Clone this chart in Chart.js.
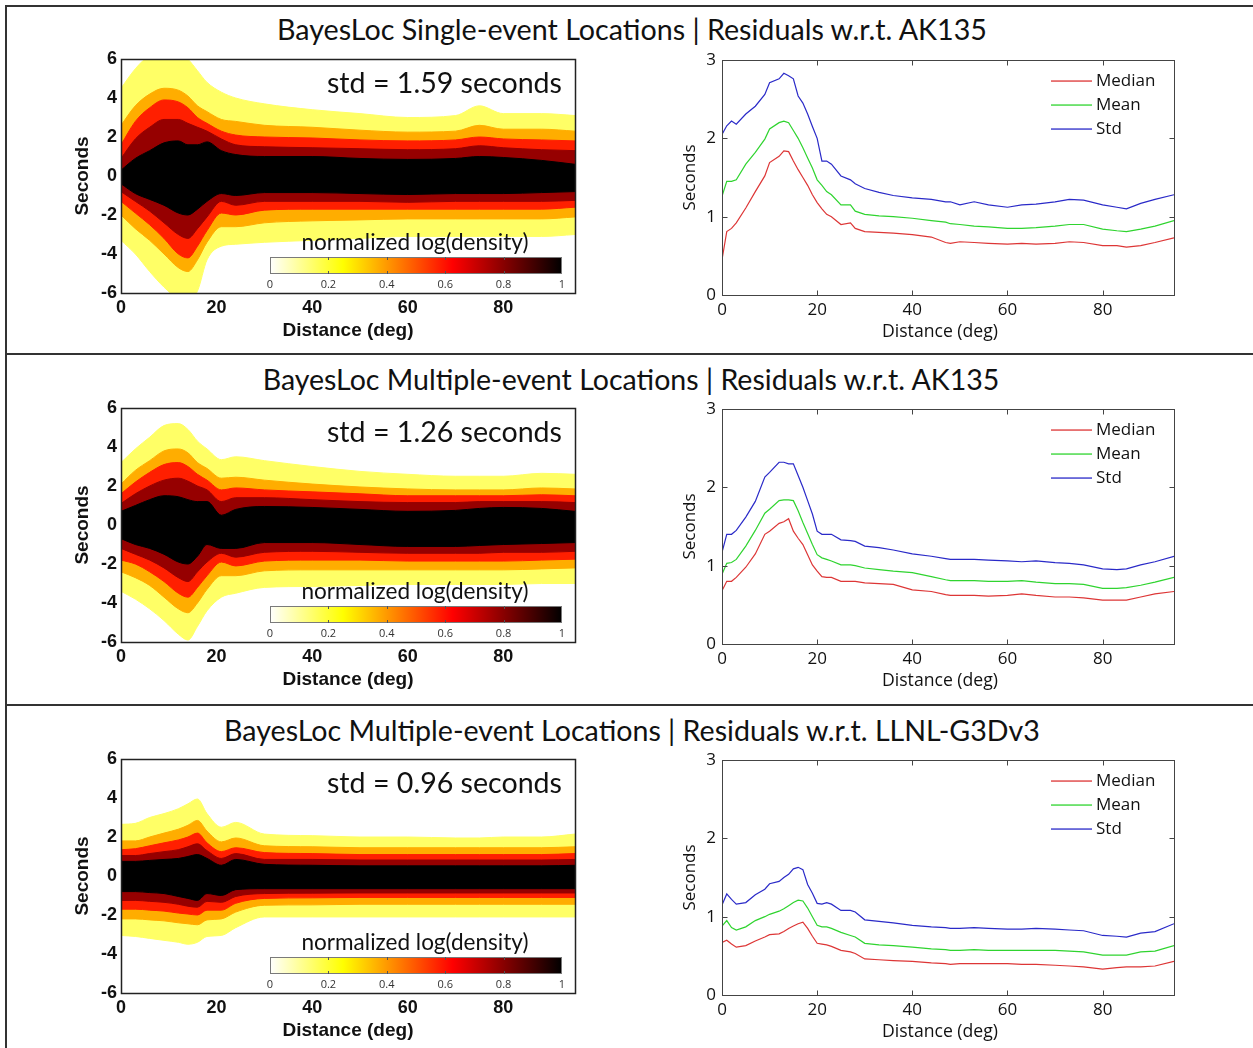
<!DOCTYPE html>
<html>
<head>
<meta charset="utf-8">
<title>BayesLoc residuals</title>
<script src="https://cdn.jsdelivr.net/npm/chart.js@4.4.1/dist/chart.umd.min.js"></script>
<style>
  html, body { margin: 0; padding: 0; background: #fff; }
  #figure { position: relative; width: 1253px; height: 1048px; overflow: hidden; background: #fff; }
  .rule { position: absolute; background: #333; }
  .label { position: absolute; white-space: nowrap; color: #111; line-height: 1; }
  canvas { position: absolute; }
</style>
</head>
<body>
<div id="figure"></div>
<script>
// ---- axes / labels ---------------------------------------------------------
const distanceTicks = [0, 20, 40, 60, 80];
const residualTicks = [-6, -4, -2, 0, 2, 4, 6];
const statTicks = [0, 1, 2, 3];
const colorbarTicks = [0, 0.2, 0.4, 0.6, 0.8, 1];

const rowTitles = [
  'BayesLoc Single-event Locations | Residuals w.r.t. AK135',
  'BayesLoc Multiple-event Locations | Residuals w.r.t. AK135',
  'BayesLoc Multiple-event Locations | Residuals w.r.t. LLNL-G3Dv3'
];
const stdLabels = ['std = 1.59 seconds', 'std = 1.26 seconds', 'std = 0.96 seconds'];
const statNames = ['Median', 'Mean', 'Std'];

// ---- density contours: distance samples and traced level boundaries (s) ----
const densityX = [0, 3, 6, 9, 12, 14, 16, 18, 21, 24, 30, 40, 50, 60, 70, 75, 80, 88, 95];
const contourLevels = [0.1, 0.3, 0.5, 0.7, 0.9];

const singleAkUpper = [
  [4.5, 5.5, 6.2, 6.5, 6.4, 6.0, 5.4, 4.8, 4.3, 4.0, 3.7, 3.4, 3.2, 3.0, 3.1, 3.6, 3.2, 3.2, 3.1],
  [2.6, 3.6, 4.2, 4.5, 4.4, 4.1, 3.6, 3.3, 2.9, 2.8, 2.6, 2.5, 2.35, 2.25, 2.3, 2.6, 2.4, 2.4, 2.3],
  [1.6, 2.8, 3.5, 3.9, 3.8, 3.5, 3.0, 2.7, 2.3, 2.1, 2.0, 1.95, 1.85, 1.8, 1.85, 2.0, 1.9, 1.85, 1.8],
  [0.9, 1.9, 2.5, 2.9, 2.9, 2.7, 2.5, 2.3, 1.9, 1.6, 1.5, 1.45, 1.4, 1.35, 1.4, 1.55, 1.45, 1.35, 1.3],
  [0.3, 0.9, 1.3, 1.7, 1.8, 1.6, 1.6, 1.75, 1.3, 1.1, 1.0, 1.0, 0.9, 0.85, 0.9, 1.0, 0.95, 0.8, 0.6]
];
const singleAkLower = [
  [-3.3, -4.0, -4.9, -5.7, -6.3, -6.4, -5.9, -4.3, -3.6, -3.5, -3.4, -3.3, -3.2, -3.1, -3.1, -3.1, -3.1, -3.1, -3.0],
  [-2.0, -2.7, -3.3, -4.0, -4.7, -4.9, -4.3, -3.4, -2.6, -2.6, -2.4, -2.3, -2.25, -2.2, -2.2, -2.2, -2.2, -2.2, -2.1],
  [-1.3, -1.9, -2.5, -3.2, -4.0, -4.2, -3.6, -2.8, -1.9, -2.0, -1.75, -1.7, -1.7, -1.7, -1.7, -1.7, -1.7, -1.7, -1.6],
  [-0.8, -1.3, -1.8, -2.4, -3.0, -3.2, -2.7, -2.1, -1.3, -1.5, -1.3, -1.3, -1.3, -1.35, -1.3, -1.3, -1.3, -1.3, -1.25],
  [-0.4, -0.9, -1.2, -1.5, -1.9, -2.0, -1.7, -1.3, -0.9, -1.0, -0.85, -0.85, -0.9, -0.95, -0.9, -0.9, -0.9, -0.85, -0.8]
];

const multiAkUpper = [
  [3.2, 3.9, 4.5, 5.1, 5.2, 4.9, 4.3, 3.9, 3.35, 3.5, 3.3, 3.0, 2.75, 2.6, 2.5, 2.5, 2.5, 2.65, 2.6],
  [2.1, 2.8, 3.3, 3.8, 3.9, 3.7, 3.2, 2.9, 2.4, 2.45, 2.3, 2.1, 1.95, 1.85, 1.8, 1.8, 1.8, 1.9, 1.85],
  [1.6, 2.2, 2.7, 3.1, 3.2, 3.0, 2.6, 2.3, 1.8, 1.9, 1.8, 1.7, 1.6, 1.5, 1.5, 1.5, 1.5, 1.55, 1.5],
  [1.1, 1.6, 2.0, 2.3, 2.4, 2.25, 2.0, 1.8, 1.2, 1.4, 1.4, 1.3, 1.2, 1.15, 1.15, 1.2, 1.2, 1.2, 1.15],
  [0.7, 1.0, 1.3, 1.5, 1.45, 1.3, 1.2, 1.2, 0.5, 0.8, 0.95, 0.9, 0.8, 0.7, 0.75, 0.85, 0.9, 0.85, 0.7]
];
const multiAkLower = [
  [-3.4, -3.8, -4.3, -4.9, -5.6, -5.9, -5.2, -4.4, -3.7, -3.5, -3.2, -3.15, -3.1, -3.05, -3.05, -3.05, -3.05, -3.0, -3.0],
  [-2.4, -2.7, -3.1, -3.7, -4.3, -4.5, -4.0, -3.3, -2.6, -2.6, -2.35, -2.3, -2.3, -2.3, -2.3, -2.3, -2.3, -2.25, -2.2],
  [-1.8, -2.0, -2.4, -2.9, -3.5, -3.7, -3.2, -2.6, -1.9, -2.1, -1.85, -1.8, -1.8, -1.85, -1.85, -1.85, -1.85, -1.8, -1.75],
  [-1.2, -1.5, -1.8, -2.2, -2.7, -2.9, -2.4, -1.9, -1.45, -1.65, -1.4, -1.35, -1.4, -1.45, -1.45, -1.45, -1.4, -1.4, -1.35],
  [-0.7, -1.0, -1.2, -1.5, -1.9, -2.0, -1.6, -1.0, -1.2, -1.2, -0.9, -0.9, -1.0, -1.1, -1.1, -1.05, -1.0, -0.95, -0.9]
];

const multiLlnlUpper = [
  [2.65, 2.7, 3.0, 3.2, 3.45, 3.7, 3.95, 3.2, 2.5, 2.75, 2.15, 2.07, 2.0, 2.0, 1.95, 1.95, 2.0, 2.0, 2.15],
  [1.8, 1.8, 2.0, 2.2, 2.4, 2.6, 2.85, 2.3, 1.75, 1.95, 1.55, 1.5, 1.45, 1.45, 1.45, 1.45, 1.45, 1.45, 1.5],
  [1.35, 1.4, 1.55, 1.7, 1.85, 2.0, 2.2, 1.7, 1.25, 1.45, 1.2, 1.15, 1.1, 1.1, 1.1, 1.1, 1.1, 1.1, 1.15],
  [1.05, 1.05, 1.15, 1.25, 1.35, 1.5, 1.65, 1.3, 0.9, 1.15, 0.85, 0.85, 0.82, 0.82, 0.82, 0.82, 0.82, 0.82, 0.85],
  [0.75, 0.75, 0.8, 0.85, 0.9, 1.0, 1.1, 0.9, 0.55, 0.85, 0.6, 0.55, 0.52, 0.52, 0.52, 0.52, 0.52, 0.52, 0.55]
];
const multiLlnlLower = [
  [-3.05, -3.1, -3.2, -3.3, -3.4, -3.5, -3.4, -3.1, -3.05, -2.65, -2.1, -2.1, -2.1, -2.1, -2.1, -2.1, -2.1, -2.1, -2.1],
  [-2.2, -2.2, -2.25, -2.3, -2.4, -2.45, -2.5, -2.25, -2.2, -1.85, -1.5, -1.48, -1.45, -1.45, -1.45, -1.45, -1.45, -1.45, -1.45],
  [-1.7, -1.7, -1.75, -1.8, -1.9, -1.95, -2.0, -1.75, -1.75, -1.4, -1.15, -1.12, -1.1, -1.1, -1.1, -1.1, -1.1, -1.1, -1.1],
  [-1.25, -1.25, -1.3, -1.35, -1.45, -1.55, -1.6, -1.3, -1.35, -1.05, -0.9, -0.88, -0.87, -0.87, -0.87, -0.87, -0.87, -0.87, -0.87],
  [-0.8, -0.8, -0.85, -0.9, -1.05, -1.15, -1.25, -0.9, -1.0, -0.7, -0.65, -0.65, -0.65, -0.65, -0.65, -0.65, -0.65, -0.65, -0.65]
];

// ---- residual statistics vs distance (s) -----------------------------------
const statX = [0, 1, 2, 3, 5, 7, 9, 10, 12, 13, 14, 15, 16, 17, 18, 19, 20, 21, 22, 23, 25, 27, 28, 30,
  33, 36, 40, 44, 47, 48, 50, 53, 56, 60, 63, 66, 70, 73, 76, 80, 83, 85, 88, 91, 95];

const singleAkMedian = [0.45, 0.81, 0.85, 0.92, 1.11, 1.32, 1.52, 1.69, 1.77, 1.84, 1.83, 1.71, 1.6, 1.5, 1.4, 1.28,
  1.18, 1.1, 1.03, 1.0, 0.9, 0.92, 0.85, 0.81, 0.8, 0.79, 0.77, 0.74, 0.67, 0.66, 0.68, 0.67, 0.66, 0.65,
  0.66, 0.65, 0.66, 0.68, 0.67, 0.63, 0.63, 0.61, 0.63, 0.67, 0.73];
const singleAkMean = [1.26, 1.45, 1.45, 1.47, 1.67, 1.82, 1.99, 2.12, 2.2, 2.22, 2.2, 2.1, 2.0, 1.88, 1.75, 1.62,
  1.47, 1.4, 1.32, 1.28, 1.15, 1.15, 1.07, 1.03, 1.01, 1.0, 0.98, 0.95, 0.93, 0.91, 0.9, 0.88, 0.87, 0.85,
  0.85, 0.86, 0.88, 0.9, 0.9, 0.84, 0.82, 0.81, 0.84, 0.88, 0.95];
const singleAkStd = [2.05, 2.16, 2.22, 2.18, 2.31, 2.41, 2.56, 2.71, 2.76, 2.83, 2.8, 2.76, 2.54, 2.45, 2.31, 2.15,
  2.0, 1.71, 1.71, 1.67, 1.52, 1.47, 1.42, 1.36, 1.31, 1.27, 1.24, 1.22, 1.19, 1.19, 1.15, 1.19, 1.15, 1.12,
  1.15, 1.16, 1.19, 1.22, 1.21, 1.15, 1.12, 1.1, 1.17, 1.22, 1.28];

const multiAkMedian = [0.68, 0.8, 0.8, 0.85, 0.98, 1.15, 1.4, 1.44, 1.54, 1.56, 1.6, 1.44, 1.35, 1.27, 1.14, 1.01,
  0.93, 0.86, 0.85, 0.85, 0.8, 0.8, 0.8, 0.78, 0.77, 0.76, 0.69, 0.67, 0.63, 0.62, 0.62, 0.62, 0.61, 0.62,
  0.64, 0.62, 0.6, 0.6, 0.59, 0.56, 0.56, 0.56, 0.6, 0.64, 0.67];
const multiAkMean = [0.89, 1.03, 1.04, 1.08, 1.25, 1.45, 1.67, 1.72, 1.83, 1.84, 1.84, 1.83, 1.7, 1.55, 1.41, 1.27,
  1.14, 1.1, 1.08, 1.06, 1.01, 1.01, 1.0, 0.97, 0.95, 0.93, 0.91, 0.86, 0.82, 0.81, 0.81, 0.81, 0.8, 0.8,
  0.81, 0.79, 0.77, 0.77, 0.76, 0.71, 0.71, 0.72, 0.75, 0.79, 0.85];
const multiAkStd = [1.17, 1.4, 1.4, 1.45, 1.62, 1.82, 2.13, 2.19, 2.32, 2.32, 2.3, 2.3, 2.15, 2.0, 1.83, 1.66,
  1.44, 1.4, 1.4, 1.4, 1.33, 1.32, 1.31, 1.25, 1.23, 1.2, 1.15, 1.12, 1.09, 1.08, 1.08, 1.08, 1.07, 1.06,
  1.05, 1.06, 1.04, 1.03, 1.01, 0.96, 0.95, 0.96, 1.01, 1.05, 1.12];

const multiLlnlMedian = [0.67, 0.7, 0.65, 0.61, 0.63, 0.69, 0.74, 0.77, 0.78, 0.81, 0.85, 0.88, 0.91, 0.93, 0.85, 0.75,
  0.66, 0.65, 0.64, 0.62, 0.57, 0.55, 0.53, 0.46, 0.45, 0.44, 0.43, 0.41, 0.4, 0.39, 0.4, 0.4, 0.4, 0.4,
  0.39, 0.39, 0.38, 0.37, 0.36, 0.33, 0.35, 0.36, 0.36, 0.37, 0.43];
const multiLlnlMean = [0.88, 0.95, 0.86, 0.83, 0.87, 0.95, 1.0, 1.03, 1.07, 1.1, 1.14, 1.18, 1.21, 1.2, 1.11, 1.0,
  0.89, 0.87, 0.87, 0.85, 0.8, 0.76, 0.74, 0.66, 0.64, 0.63, 0.61, 0.59, 0.58, 0.57, 0.57, 0.58, 0.57, 0.57,
  0.57, 0.57, 0.57, 0.56, 0.55, 0.51, 0.51, 0.51, 0.55, 0.56, 0.63];
const multiLlnlStd = [1.15, 1.29, 1.22, 1.16, 1.18, 1.28, 1.35, 1.42, 1.45, 1.5, 1.54, 1.61, 1.63, 1.6, 1.41, 1.3,
  1.17, 1.16, 1.18, 1.16, 1.08, 1.08, 1.06, 0.96, 0.94, 0.92, 0.89, 0.87, 0.86, 0.85, 0.85, 0.86, 0.85, 0.84,
  0.84, 0.85, 0.84, 0.83, 0.82, 0.76, 0.75, 0.74, 0.79, 0.81, 0.91];

const rows = [
  { title: rowTitles[0], std: stdLabels[0], upper: singleAkUpper, lower: singleAkLower,
    stats: [singleAkMedian, singleAkMean, singleAkStd] },
  { title: rowTitles[1], std: stdLabels[1], upper: multiAkUpper, lower: multiAkLower,
    stats: [multiAkMedian, multiAkMean, multiAkStd] },
  { title: rowTitles[2], std: stdLabels[2], upper: multiLlnlUpper, lower: multiLlnlLower,
    stats: [multiLlnlMedian, multiLlnlMean, multiLlnlStd] }
];

// ---- styling -----------------------------------------------------------------
const ROW_SHIFT = [0, 349, 700];
const TITLE_POS = [{ x: 632, y: 29, w: 710 }, { x: 631, y: 379, w: 737 }, { x: 632, y: 730, w: 816 }];
const bandTone = [0.15, 0.37, 0.58, 0.78, 1.0];   // fill tone for area inside each level
const statColors = ['#dd3636', '#2fd42f', '#2a2ac8'];
const boldAxisFont = { family: '"Liberation Sans", Arial, sans-serif', size: 18, weight: 'bold' };
const boldTitleFont = { family: '"Liberation Sans", Arial, sans-serif', size: 19, weight: 'bold' };
const plainFont = { family: '"Open Sans", sans-serif', size: 17 };

// reversed MATLAB "hot" colormap: 0 -> white, 1 -> black
function hotR(t) {
  const v = 1 - t;
  const r = Math.min(1, v / 0.375);
  const g = Math.min(1, Math.max(0, (v - 0.375) / 0.375));
  const b = Math.min(1, Math.max(0, (v - 0.75) / 0.25));
  return `rgb(${Math.round(r * 255)},${Math.round(g * 255)},${Math.round(b * 255)})`;
}

const fig = document.getElementById('figure');

function addRule(left, top, width, height) {
  const d = document.createElement('div');
  d.className = 'rule';
  Object.assign(d.style, { left: left + 'px', top: top + 'px', width: width + 'px', height: height + 'px' });
  fig.appendChild(d);
}

// text sized so that it spans a given width, then placed by anchor
function addText(text, family, cx, cy, width, anchor) {
  const el = document.createElement('div');
  el.className = 'label';
  el.textContent = text;
  el.style.fontFamily = family;
  el.style.fontSize = '28px';
  fig.appendChild(el);
  const w0 = el.getBoundingClientRect().width;
  el.style.fontSize = (28 * width / w0).toFixed(2) + 'px';
  const r = el.getBoundingClientRect();
  const left = anchor === 'right' ? cx - r.width : cx - r.width / 2;
  el.style.left = left + 'px';
  el.style.top = (cy - r.height / 2) + 'px';
}

function addCanvas(left, top, w, h) {
  const c = document.createElement('canvas');
  c.width = w;
  c.height = h;
  Object.assign(c.style, { left: left + 'px', top: top + 'px', width: w + 'px', height: h + 'px' });
  fig.appendChild(c);
  return c;
}

// box around the plot area, with optional inward tick marks
function framePlugin(color, width, tickLen, xTicks, yTicks) {
  return {
    id: 'frame',
    afterDatasetsDraw(chart) {
      const { ctx, chartArea: a, scales } = chart;
      const l = Math.round(a.left) + 0.5, t = Math.round(a.top) + 0.5;
      const r = Math.round(a.right) + 0.5, b = Math.round(a.bottom) + 0.5;
      ctx.save();
      ctx.strokeStyle = color;
      ctx.lineWidth = width;
      ctx.strokeRect(l, t, r - l, b - t);
      if (tickLen) {
        ctx.lineWidth = 1;
        ctx.beginPath();
        xTicks.forEach(v => {
          const px = Math.round(scales.x.getPixelForValue(v)) + 0.5;
          ctx.moveTo(px, b); ctx.lineTo(px, b - tickLen);
          ctx.moveTo(px, t); ctx.lineTo(px, t + tickLen);
        });
        yTicks.forEach(v => {
          const py = Math.round(scales.y.getPixelForValue(v)) + 0.5;
          ctx.moveTo(l, py); ctx.lineTo(l + tickLen, py);
          ctx.moveTo(r, py); ctx.lineTo(r - tickLen, py);
        });
        ctx.stroke();
      }
      ctx.restore();
    }
  };
}

// horizontal colour bar for the density scale
const colorbarPlugin = {
  id: 'colorbar',
  afterDatasetsDraw(chart) {
    const { ctx, chartArea: a } = chart;
    const left = Math.round(a.left) + 149, top = Math.round(a.top) + 198, w = 292, h = 17;
    const grad = ctx.createLinearGradient(left, 0, left + w, 0);
    for (let i = 0; i <= 40; i++) grad.addColorStop(i / 40, hotR(i / 40));
    ctx.save();
    ctx.fillStyle = grad;
    ctx.fillRect(left, top, w, h);
    ctx.strokeStyle = '#7a7a7a';
    ctx.lineWidth = 1;
    ctx.strokeRect(left + 0.5, top + 0.5, w - 1, h - 1);
    ctx.strokeStyle = '#555';
    ctx.beginPath();
    colorbarTicks.slice(1, -1).forEach(v => {
      const px = Math.round(left + v * w) + 0.5;
      ctx.moveTo(px, top); ctx.lineTo(px, top + 3);
      ctx.moveTo(px, top + h); ctx.lineTo(px, top + h - 3);
    });
    ctx.stroke();
    ctx.fillStyle = '#333';
    ctx.font = '11px "Open Sans", sans-serif';
    ctx.textAlign = 'center';
    ctx.textBaseline = 'middle';
    colorbarTicks.forEach(v => ctx.fillText(String(v), left + v * w, top + h + 11));
    ctx.restore();
  }
};

// legend drawn inside the upper right of the statistics plot
const statLegendPlugin = {
  id: 'statLegend',
  afterDraw(chart) {
    const { ctx, chartArea: a } = chart;
    ctx.save();
    ctx.font = '17px "Open Sans", sans-serif';
    ctx.textAlign = 'left';
    ctx.textBaseline = 'middle';
    statNames.forEach((name, i) => {
      const y = Math.round(a.top) + 21 + i * 24;
      ctx.fillStyle = statColors[i];
      ctx.fillRect(Math.round(a.left) + 329, y - 0.6, 41, 1.3);
      ctx.fillStyle = '#111';
      ctx.fillText(name, a.left + 374, y);
    });
    ctx.restore();
  }
};

function fixedTicks(values) {
  return scale => { scale.ticks = values.map(v => ({ value: v })); };
}

function contourDatasets(upper, lower) {
  const sets = [];
  // innermost level first so the outer bands are painted underneath
  for (let k = contourLevels.length - 1; k >= 0; k--) {
    const color = hotR(bandTone[k]);
    const common = { borderColor: color, borderWidth: 1, pointRadius: 0, cubicInterpolationMode: 'monotone' };
    sets.push({ ...common, data: densityX.map((x, i) => ({ x, y: upper[k][i] })), fill: '+1', backgroundColor: color });
    sets.push({ ...common, data: densityX.map((x, i) => ({ x, y: lower[k][i] })), fill: false });
  }
  return sets;
}

const noGrid = { display: false, drawTicks: false, tickLength: 0 };

function densityChart(canvas, row) {
  return new Chart(canvas, {
    type: 'line',
    data: { datasets: contourDatasets(row.upper, row.lower) },
    options: {
      responsive: false,
      animation: false,
      events: [],
      layout: { padding: { left: 0, top: 19, right: 25, bottom: 0 } },
      plugins: { legend: { display: false }, tooltip: { enabled: false } },
      scales: {
        x: {
          type: 'linear', min: 0, max: 95,
          afterBuildTicks: fixedTicks(distanceTicks),
          afterFit: s => { s.height = 57; },
          grid: noGrid, border: { display: false },
          ticks: { font: boldAxisFont, color: '#111', padding: 4, maxRotation: 0 },
          title: { display: true, text: 'Distance (deg)', font: boldTitleFont, color: '#111', padding: { bottom: 8 } }
        },
        y: {
          type: 'linear', min: -6, max: 6,
          afterBuildTicks: fixedTicks(residualTicks),
          afterFit: s => { s.width = 81; },
          grid: noGrid, border: { display: false },
          ticks: { font: boldAxisFont, color: '#111', padding: 4 },
          title: { display: true, text: 'Seconds', font: boldTitleFont, color: '#111', padding: { top: 31 } }
        }
      }
    },
    plugins: [framePlugin('#222', 1.5, 0, [], []), colorbarPlugin]
  });
}

function statChart(canvas, row) {
  return new Chart(canvas, {
    type: 'line',
    data: {
      datasets: row.stats.map((vals, i) => ({
        label: statNames[i],
        data: statX.map((x, j) => ({ x, y: vals[j] })),
        borderColor: statColors[i],
        borderWidth: 1.2,
        pointRadius: 0,
        fill: false
      }))
    },
    options: {
      responsive: false,
      animation: false,
      events: [],
      layout: { padding: { left: 0, top: 20, right: 26, bottom: 0 } },
      plugins: { legend: { display: false }, tooltip: { enabled: false } },
      scales: {
        x: {
          type: 'linear', min: 0, max: 95,
          afterBuildTicks: fixedTicks(distanceTicks),
          afterFit: s => { s.height = 55; },
          grid: noGrid, border: { display: false },
          ticks: { font: plainFont, color: '#111', padding: 5, maxRotation: 0 },
          title: { display: false }
        },
        y: {
          type: 'linear', min: 0, max: 3,
          afterBuildTicks: fixedTicks(statTicks),
          afterFit: s => { s.width = 82; },
          grid: noGrid, border: { display: false },
          ticks: { font: plainFont, color: '#111', padding: 6 },
          title: { display: true, text: 'Seconds', font: plainFont, color: '#111', padding: { top: 40 } }
        }
      }
    },
    plugins: [framePlugin('#444', 1, 5, distanceTicks, [1, 2]), statLegendPlugin]
  });
}

// ---- page frame --------------------------------------------------------------
addRule(5, 5, 1248, 2);
addRule(5, 5, 2, 1043);
addRule(5, 353, 1248, 2);
addRule(5, 704, 1248, 2);

rows.forEach((row, r) => {
  const dy = ROW_SHIFT[r];
  const tp = TITLE_POS[r];
  addText(row.title, 'Lato, sans-serif', tp.x, tp.y, tp.w, 'center');
  densityChart(addCanvas(40, 40 + dy, 560, 310), row);
  statChart(addCanvas(640, 40 + dy, 560, 310), row);
  addText(row.std, 'Lato, sans-serif', 562, 82 + dy, 235, 'right');
  addText('normalized log(density)', 'Lato, sans-serif', 415, 242 + dy, 227, 'center');
  // x-axis caption of the statistics plot sits a little left of the axis centre
  addText('Distance (deg)', '"Open Sans", sans-serif', 940, 331 + dy, 116, 'center');
});
</script>
</body>
</html>
